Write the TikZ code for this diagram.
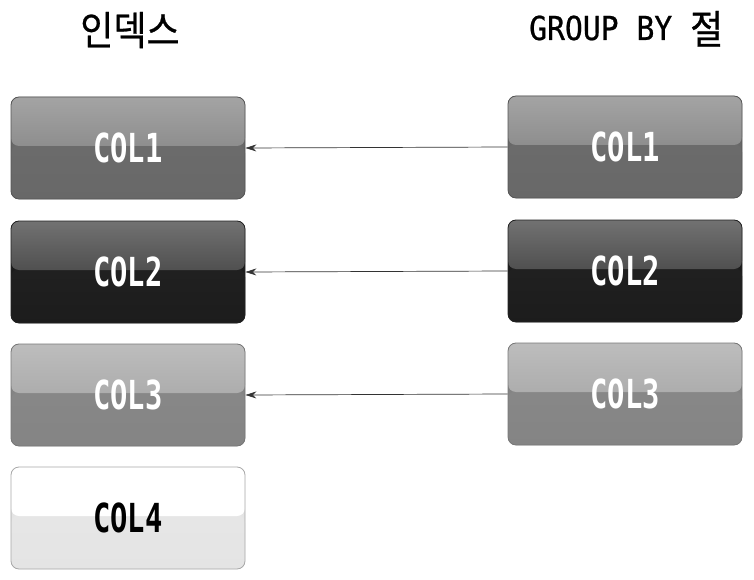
\documentclass[tikz,border=0pt]{standalone}
\usepackage{fontspec}
\usetikzlibrary{arrows.meta}
\newfontfamily\monofont[FakeStretch=0.9,FakeBold=0.6]{DejaVu Sans Mono}
\newfontfamily\labfont[FakeStretch=0.72]{DejaVu Sans Mono}
\newfontfamily\kofont[FakeStretch=0.9,FakeBold=0.6]{Noto Sans CJK KR}
\definecolor{aTop}{HTML}{8E8E8E}\definecolor{aBot}{HTML}{686868}\definecolor{aBd}{HTML}{555555}
\definecolor{bTop}{HTML}{505050}\definecolor{bBot}{HTML}{1C1C1C}\definecolor{bBd}{HTML}{222222}
\definecolor{cTop}{HTML}{ADADAD}\definecolor{cBot}{HTML}{848484}\definecolor{cBd}{HTML}{777777}
\definecolor{dTop}{HTML}{FFFFFF}\definecolor{dBot}{HTML}{E4E4E4}\definecolor{dBd}{HTML}{A8A8A8}
\definecolor{arrc}{HTML}{333333}
\tikzset{
  cbox/.style n args={4}{rounded corners=8pt, minimum width=234pt, minimum height=102pt,
    draw=#3, fill=#2, line width=0.8pt, text=#4, inner sep=0pt,
    font=\labfont\bfseries\fontsize{40}{40}\selectfont,
    path picture={
      \shade[top color=#2!85!#1, bottom color=#2] ([yshift=3pt]path picture bounding box.west) rectangle ([yshift=-2pt]path picture bounding box.south east);
      \shade[top color=#1!80!white, bottom color=#1] ([yshift=2pt]path picture bounding box.north west) rectangle ([yshift=2pt]path picture bounding box.east);
    }},
  head/.style={inner sep=0pt, text=black},
  arr/.style={draw=arrc, line width=0.7pt, -{Stealth[length=11pt,width=7pt]}},
}
\begin{document}
\begin{tikzpicture}[x=1pt,y=1pt]
\useasboundingbox (0,0) rectangle (754,-580);
\node[head, anchor=base] (h1) at (130,-45) {\kofont\fontsize{40}{40}\selectfont 인덱스};
\node[head, anchor=base west] (h2) at (529,-40) {\monofont\fontsize{33}{33}\selectfont GROUP BY \raisebox{-4pt}{\kofont\fontsize{40}{40}\selectfont 절}};

\node[cbox={aTop}{aBot}{aBd}{white}] (l1) at (128,-148) {COL1};
\node[cbox={bTop}{bBot}{bBd}{white}] (l2) at (128,-272) {COL2};
\node[cbox={cTop}{cBot}{cBd}{white}] (l3) at (128,-395) {COL3};
\node[cbox={dTop}{dBot}{dBd}{black}] (l4) at (128,-518) {COL4};

\node[cbox={aTop}{aBot}{aBd}{white}] (r1) at (625,-147) {COL1};
\node[cbox={bTop}{bBot}{bBd}{white}] (r2) at (625,-271) {COL2};
\node[cbox={cTop}{cBot}{cBd}{white}] (r3) at (625,-394) {COL3};

\draw[arr] (r1.west) -- (l1.east);
\draw[arr] (r2.west) -- (l2.east);
\draw[arr] (r3.west) -- (l3.east);
\end{tikzpicture}
\end{document}
